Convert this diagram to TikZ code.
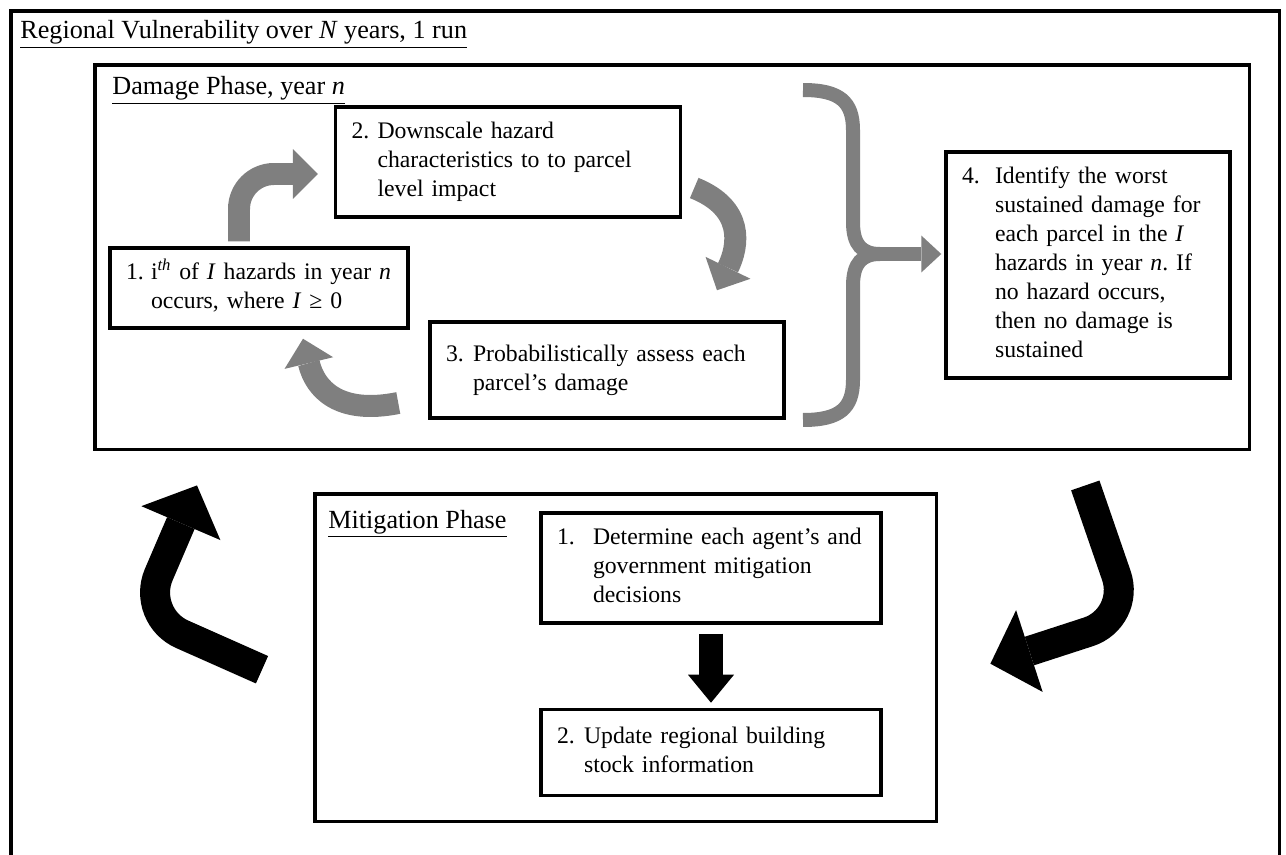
\documentclass[tikz,border=0pt]{standalone}
\usepackage{fontspec}
\setmainfont{Liberation Serif}
\usetikzlibrary{arrows.meta,positioning,calc}
\definecolor{ArrowGray}{HTML}{7F7F7F}
\newcommand{\numitem}[3]{\begin{tabular}{@{}p{#1}@{}l@{}}#2&\begin{tabular}[t]{@{}l@{}}#3\end{tabular}\end{tabular}}
\frenchspacing

\begin{document}
\begin{tikzpicture}[x=0.02cm,y=-0.02cm,font=\fontsize{13.5}{16.5}\selectfont,
stepbox/.style={draw,line width=2pt,inner xsep=0.32cm,inner ysep=0pt,align=left},
phase/.style={draw,line width=2pt,anchor=north west,inner sep=0pt},
ttl/.style={anchor=base west,inner sep=0pt,font=\fontsize{14.9}{17}\selectfont},
grayarr/.style={draw=ArrowGray,line width=0.44cm,-{Triangle[width=1cm,length=0.5cm,line width=0pt]}},
bracearr/.style={draw=ArrowGray,line width=0.28cm},
blackarr/.style={draw=black,line width=0.6cm,-{Triangle[width=1.72cm,length=0.82cm,line width=0pt]}},
downarr/.style={draw=black,line width=0.48cm,-{Triangle[width=0.92cm,length=0.56cm,line width=0pt]}}]
\useasboundingbox (0,0) rectangle (1286,855);
\clip (0,0) rectangle (1286,855);
% frames
\node[phase,minimum width=25.38cm,minimum height=17.5cm] (outer) at (9,9) {};
\node[ttl] (outttl) at ($(outer.north west)+(11,30)$) {\underline{Regional Vulnerability over \textit{N} years, 1 run}};
\node[phase,minimum width=23.1cm,minimum height=7.7cm] (dmg) at (93,63) {};
\node[ttl] (dmgttl) at ($(dmg.north west)+(19,32)$) {\underline{Damage Phase, year \textit{n}}};
\node[phase,minimum width=12.44cm,minimum height=6.56cm] (mit) at (313,492) {};
\node[ttl] (mitttl) at ($(mit.north west)+(15,36)$) {\underline{Mitigation Phase}};
% damage steps
\node[stepbox,text width=5.32cm,minimum height=1.6cm] (s1) at (259,288) {\numitem{0.5cm}{1.}{i\textsuperscript{\textit{th}} of \textit{I} hazards in year \textit{n}\\occurs, where \textit{I} ≥ 0}};
\node[stepbox,text width=6.26cm,minimum height=2.2cm] (s2) at (508,162) {\numitem{0.52cm}{2.}{Downscale hazard\\characteristics to to parcel\\level impact}};
\node[stepbox,text width=6.44cm,minimum height=1.92cm] (s3) at (607,370) {\numitem{0.54cm}{3.}{Probabilistically assess each\\parcel’s damage}};
\node[stepbox,text width=5.04cm,minimum height=4.52cm] (s4) at (1088,265) {\numitem{0.66cm}{4.}{Identify the worst\\sustained damage for\\each parcel in the \textit{I}\\hazards in year \textit{n}. If\\no hazard occurs,\\then no damage is\\sustained}};
% mitigation steps
\node[stepbox,text width=6.16cm,minimum height=2.2cm] (m1) at (711,568) {\numitem{0.72cm}{1.}{Determine each agent’s and\\government mitigation\\decisions}};
\node[stepbox,text width=6.16cm,minimum height=1.72cm,below=1.66cm of m1] (m2) {\numitem{0.54cm}{2.}{Update regional building\\stock information}};
% loop arrows
\draw[grayarr,rounded corners=0.7cm] ($(s1.north)+(-20,-5)$) |- ($(s2.west)+(-16,12)$);
\draw[grayarr] ($(s2.east)+(12,26)$) .. controls +(50,20) and +(22,-45) .. ($(s3.north)+(110,-30)$);
\draw[grayarr] ($(s3.west)+(-30,33)$) .. controls +(-60,12) and +(12,50) .. ($(s1.south)+(44,9)$);
% brace into step 4
\coordinate (brtip) at ($(s4.west)+(-3,-11)$);
\coordinate (brmid) at (880,254);
\draw[bracearr] (803,90) .. controls (840,90) and (853,102) .. (853,130) -- (853,222) .. controls (853,245) and (862,254) .. (brmid);
\draw[bracearr] (803,420) .. controls (840,420) and (853,408) .. (853,380) -- (853,286) .. controls (853,263) and (862,254) .. (brmid);
\draw[bracearr,-{Triangle[width=0.74cm,length=0.4cm,line width=0pt]}] (brmid) -- (brtip);
% phase arrows
\coordinate (lbend) at (141,616);
\coordinate (rbend) at (1131,618);
\draw[blackarr,rounded corners=0.9cm] ($(mit.west)+(-51,12)$) -- (lbend) -- ($(dmg.south west)+(104,34)$);
\draw[blackarr,rounded corners=0.9cm] ($(dmg.south east)+(-166,34)$) -- (rbend) -- ($(mit.east)+(52,6)$);
\draw[downarr] ($(m1.south)+(0,9)$) -- ($(m2.north)+(0,-5)$);
\end{tikzpicture}
\end{document}
